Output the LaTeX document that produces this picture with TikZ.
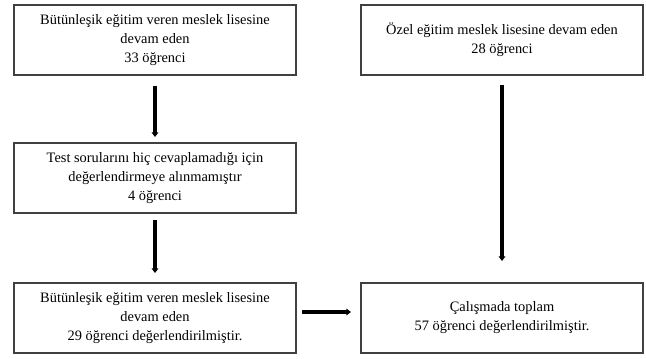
\documentclass[tikz,border=0pt]{standalone}
\usepackage{fontspec}
\setmainfont{Liberation Serif}
\usetikzlibrary{positioning,arrows.meta}

\tikzset{
  kutu/.style={draw=black!75, line width=1.2pt, minimum width=211.5pt, minimum height=52.5pt,
    align=center, inner sep=2pt, outer sep=0pt},
  ok/.style={-{Triangle[length=3.5pt,width=5pt]}, line width=2.6pt}
}

\begin{document}
\begin{tikzpicture}[x=0.75pt, y=-0.75pt, node distance=51pt and 48.75pt,
  font=\fontsize{10.8}{14.25}\selectfont]
  \useasboundingbox (0,0) rectangle (646,359);
  % Nodes
  \node[kutu] (B33) at (155,40) {Bütünleşik eğitim veren meslek lisesine\\devam eden\\33 öğrenci};
  \node[kutu, right=of B33] (Ozel) {Özel eğitim meslek lisesine devam eden\\28 öğrenci};
  \node[kutu, below=of B33] (Test) {Test sorularını hiç cevaplamadığı için\\değerlendirmeye alınmamıştır\\4 öğrenci};
  \node[kutu, below=52.5pt of Test] (B29) {Bütünleşik eğitim veren meslek lisesine\\devam eden\\29 öğrenci değerlendirilmiştir.};
  \node[kutu, right=of B29] (Toplam) {Çalışmada toplam\\57 öğrenci değerlendirilmiştir.};

  % Arrows
  \draw[ok, shorten <=8.25pt, shorten >=4.5pt] (B33) -- (Test);
  \draw[ok, shorten <=5.25pt, shorten >=7.5pt] (Test) -- (B29);
  \draw[ok, shorten <=7.5pt, shorten >=16.5pt] (Ozel) -- (Toplam);
  \draw[ok, shorten <=4.5pt, shorten >=7.5pt] ([yshift=4.5pt]B29.east) -- ([yshift=4.5pt]Toplam.west);
\end{tikzpicture}
\end{document}
